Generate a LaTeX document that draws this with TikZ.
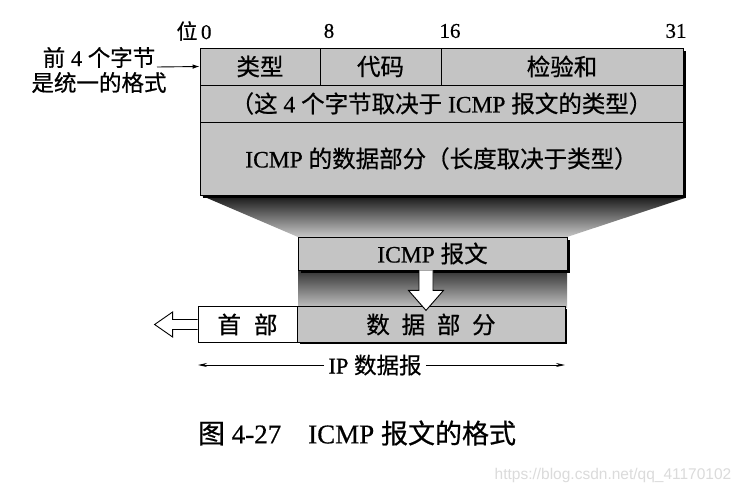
\documentclass[tikz,border=0pt]{standalone}
\usepackage{fontspec}
\setmainfont{Liberation Serif}[FakeBold=0.6]
\setsansfont{Liberation Sans}
\newfontfamily\cjk{Noto Sans CJK SC}[FakeBold=0.6]
\newfontfamily\serifheavy{Liberation Serif}[FakeBold=0.6]
\newcommand\zh[1]{{\cjk #1}}
\usetikzlibrary{calc,arrows.meta}
\definecolor{cellgray}{gray}{0.77}
\begin{document}
\begin{tikzpicture}[x=1pt,y=-1pt,
  cell/.style={draw=black, line width=0.8pt, fill=cellgray, inner sep=0pt, minimum height=37pt, font=\serifheavy\fontsize{23.5}{27}\selectfont},
  lbl/.style={inner sep=0pt, font=\serifheavy\fontsize{21}{25}\selectfont},
  hollow/.style={draw=black, line width=0.9pt, fill=white, line join=miter},
  shadowfill/.style={fill=black}
]
\useasboundingbox (0,0) rectangle (746,495);
\fill[white] (0,0) rectangle (746,495);

% funnel shading between the big box and the ICMP message box
\shade[top color=black!92, bottom color=black!22] (200,195) -- (685,198) -- (567,237) -- (298,237) -- cycle;
% shading under the ICMP message box
\shade[top color=black!80, bottom color=black!25] (298,270) rectangle (567,307);

% shadow of big box
\fill[shadowfill] (203,51) rectangle (686,198);

% big box cells
\node[cell, minimum width=120pt] (typ) at (260,66.5) {\zh{类型}};
\node[cell, minimum width=121pt] (code) at (380.5,66.5) {\zh{代码}};
\node[cell, minimum width=242pt] (chk) at (562,66.5) {\zh{检验和}};
\node[cell, minimum width=483pt] (row2) at (441.5,103.5) {\zh{（这} 4 \zh{个字节取决于} ICMP \zh{报文的类型）}};
\node[cell, minimum width=483pt, minimum height=73pt] (row3) at (441.5,158.5) {ICMP \zh{的数据部分（长度取决于类型）}};

% bit labels
\node[lbl] (b0) at (194,31) {\zh{位}\,0};
\node[lbl] (b8) at (329,31) {8};
\node[lbl] (b16) at (450,31) {16};
\node[lbl] (b31) at (676,31) {31};

% left note
\node[lbl, align=center, font=\serifheavy\fontsize{22.5}{25}\selectfont] (note) at (99,70) {\zh{前} 4 \zh{个字节}\\\zh{是统一的格式}};
\coordinate (noteend) at (157,67);
\draw[line width=0.9pt, -{Latex[length=7pt,width=4.5pt]}] (noteend) -- (typ.west);

% ICMP message box
\fill[shadowfill] (301,240) rectangle (570,273);
\node[cell, minimum width=269pt, minimum height=33pt] (icmp) at (432.5,253.5) {ICMP \zh{报文}};

% IP datagram
\fill[shadowfill] (300,309) rectangle (567,344);
\node[cell, fill=white, minimum width=99pt, minimum height=36pt] (hdr) at (247.5,324.5) {\zh{首\hspace{0.55em}部}};
\node[cell, minimum width=268pt, minimum height=36pt] (data) at (431,324.5) {\zh{数\hspace{0.5em}据\hspace{0.5em}部\hspace{0.5em}分}};

% hollow arrow from ICMP box into data part
\coordinate (dtop) at ($(icmp.south)+(-6.5,0)$);
\draw[hollow] ($(dtop)+(-7,0)$) -- ++(0,20) -- ++(-10.5,0) -- ($(dtop)+(0,40)$) -- ($(dtop)+(17.5,20)$) -- ++(-10.5,0) -- ($(dtop)+(7,0)$);

% hollow arrow leaving the header to the left
\draw[hollow] ($(hdr.west)+(0,-5)$) -- ++(-25,0) -- ++(0,-7.5) -- ($(hdr.west)+(-43,0)$) -- ($(hdr.west)+(-25,12.5)$) -- ++(0,-7.5) -- ($(hdr.west)+(0,5)$);

% IP datagram span
\node[lbl, fill=white, inner xsep=4pt, font=\serifheavy\fontsize{22.5}{26}\selectfont] (ip) at (375,365) {IP \zh{数据报}};
\coordinate (ipl) at (198,365);
\coordinate (ipr) at (565,365);
\draw[line width=0.9pt, -{Stealth[length=9pt,width=4pt]}] (ip.west) -- (ipl);
\draw[line width=0.9pt, -{Stealth[length=9pt,width=4pt]}] (ip.east) -- (ipr);

% caption
\node[inner sep=0pt, font=\serifheavy\fontsize{27}{31}\selectfont] (cap) at (357,433) {\zh{图} 4-27\hspace{1em}ICMP \zh{报文的格式}};

% watermark
\node[inner sep=0pt, text=black!14, font=\sffamily\fontsize{15.5}{18}\selectfont] (wm) at (613,475) {https://blog.csdn.net/qq\_41170102};
\end{tikzpicture}
\end{document}
